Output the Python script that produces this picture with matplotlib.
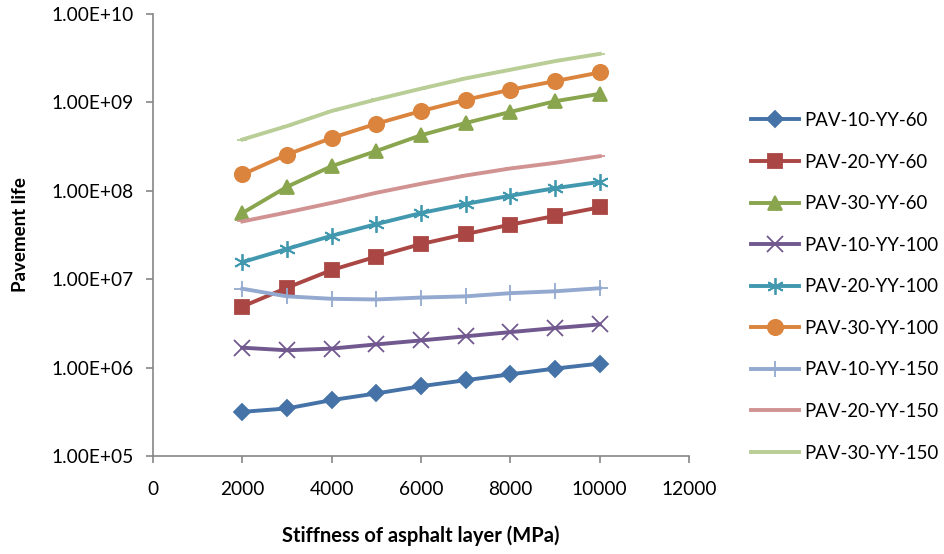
import numpy as np
import matplotlib.pyplot as plt
from matplotlib.ticker import FixedLocator, FuncFormatter

plt.rcParams['font.family'] = ['Lato', 'DejaVu Sans']

# data
stiffness = [2000, 3000, 4000, 5000, 6000, 7000, 8000, 9000, 10000]

pav_10_60 = [3.16e5, 3.45e5, 4.29e5, 5.1e5, 6.16e5, 7.2e5, 8.4e5, 9.75e5, 1.11e6]
pav_20_60 = [4.9e6, 8.0e6, 1.27e7, 1.8e7, 2.5e7, 3.24e7, 4.14e7, 5.2e7, 6.5e7]
pav_30_60 = [5.6e7, 1.11e8, 1.9e8, 2.82e8, 4.25e8, 5.85e8, 7.8e8, 1.03e9, 1.25e9]
pav_10_100 = [1.68e6, 1.57e6, 1.64e6, 1.83e6, 2.03e6, 2.26e6, 2.52e6, 2.8e6, 3.08e6]
pav_20_100 = [1.56e7, 2.2e7, 3.1e7, 4.2e7, 5.6e7, 7.1e7, 8.8e7, 1.07e8, 1.26e8]
pav_30_100 = [1.53e8, 2.57e8, 3.96e8, 5.74e8, 7.98e8, 1.07e9, 1.39e9, 1.74e9, 2.18e9]
pav_10_150 = [7.8e6, 6.4e6, 6.0e6, 5.9e6, 6.2e6, 6.4e6, 6.95e6, 7.3e6, 7.9e6]
pav_20_150 = [4.5e7, 5.7e7, 7.3e7, 9.5e7, 1.2e8, 1.49e8, 1.79e8, 2.07e8, 2.46e8]
pav_30_150 = [3.8e8, 5.4e8, 8.0e8, 1.08e9, 1.43e9, 1.87e9, 2.34e9, 2.93e9, 3.54e9]

labels = ["PAV-10-YY-60", "PAV-20-YY-60", "PAV-30-YY-60",
          "PAV-10-YY-100", "PAV-20-YY-100", "PAV-30-YY-100",
          "PAV-10-YY-150", "PAV-20-YY-150", "PAV-30-YY-150"]
series = [pav_10_60, pav_20_60, pav_30_60, pav_10_100, pav_20_100,
          pav_30_100, pav_10_150, pav_20_150, pav_30_150]

colors = ["#4572A7", "#AA4643", "#89A54E", "#71588F", "#4198AF",
          "#DB843D", "#93A9CF", "#D19392", "#B9CD96"]
markers = ["D", "s", "^", "x", (6, 2, 0), "o", "+", "_", "_"]
msizes = [8, 10, 10, 11, 12, 11, 12, 7, 7]

fig = plt.figure(figsize=(9.44, 5.54), dpi=100)
ax = fig.add_axes([153/944, 1-456/554, (689-153)/944, (456-14)/554])

for y, lab, c, m, ms in zip(series, labels, colors, markers, msizes):
    ax.plot(stiffness, y, color=c, lw=2.8, marker=m, ms=ms, mew=1.3,
            label=lab, solid_joinstyle='round')

ax.set_yscale('log')
ax.set_ylim(1e5, 1e10)
ax.set_xlim(0, 12000)
ax.set_xticks(np.arange(0, 12001, 2000))
ax.yaxis.set_major_locator(FixedLocator([10.0**k for k in range(5, 11)]))
ax.yaxis.set_minor_locator(FixedLocator([]))
ax.yaxis.set_major_formatter(FuncFormatter(lambda v, p: "1.00E+%02d" % round(np.log10(v))))

for s in ['top', 'right']:
    ax.spines[s].set_visible(False)
for s in ['left', 'bottom']:
    ax.spines[s].set_color('#868686')
    ax.spines[s].set_linewidth(1.2)
ax.tick_params(colors='#868686', labelcolor='black', labelsize=13.8, length=5, width=1.2)
ax.tick_params(axis='x', pad=13)
ax.tick_params(axis='y', pad=9)

ax.set_xlabel("Stiffness of asphalt layer (MPa)", fontsize=14.5, fontweight='bold', labelpad=20)
ax.set_ylabel("Pavement life", fontsize=13.5, fontweight='bold', labelpad=16)

fig.legend(loc='upper left', bbox_to_anchor=(751/944, 1-112/554), frameon=False,
           fontsize=13.4, handlelength=2.6, labelspacing=1.32, handletextpad=0.25,
           borderpad=0, borderaxespad=0)

fig.savefig("out.png", dpi=100)
